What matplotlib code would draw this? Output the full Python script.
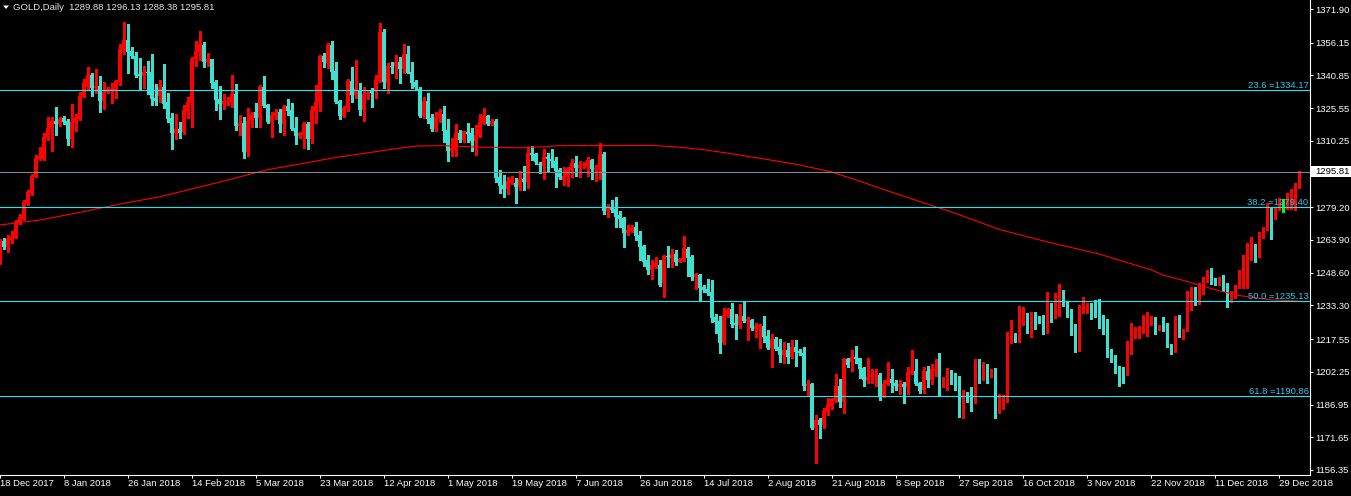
import matplotlib
matplotlib.use("Agg")
import matplotlib.pyplot as plt
from matplotlib.patches import Rectangle, Polygon
from matplotlib.transforms import IdentityTransform

# daily GOLD bars, oldest first
opens = [
    1254.0, 1263.4, 1260.8, 1264.0, 1265.0, 1271.7, 1273.5, 1281.0, 1285.7, 1293.5,
    1301.8, 1301.8, 1311.4, 1315.8, 1319.5, 1318.1, 1321.1, 1319.5, 1311.1, 1318.8,
    1320.3, 1330.9, 1335.6, 1341.0, 1335.0, 1336.0, 1328.9, 1333.1, 1334.0, 1334.0,
    1337.9, 1352.7, 1357.4, 1352.3, 1349.9, 1341.5, 1340.6, 1342.6, 1342.6, 1330.4,
    1331.2, 1335.6, 1328.4, 1320.9, 1314.1, 1315.8, 1314.6, 1324.4, 1328.1, 1348.4,
    1352.0, 1355.1, 1347.3, 1348.5, 1337.8, 1329.8, 1327.5, 1328.6, 1327.8, 1332.2,
    1317.2, 1318.4, 1305.2, 1319.5, 1323.6, 1321.1, 1335.3, 1327.0, 1319.2, 1322.0,
    1323.6, 1318.0, 1326.5, 1324.7, 1316.1, 1312.7, 1313.0, 1318.1, 1311.0, 1324.4,
    1328.1, 1349.9, 1346.8, 1355.1, 1342.9, 1328.9, 1322.0, 1325.5, 1338.2, 1331.7,
    1333.6, 1324.7, 1332.2, 1334.0, 1333.7, 1338.2, 1361.0, 1337.5, 1345.2, 1345.2,
    1347.3, 1343.8, 1350.9, 1342.4, 1337.8, 1334.5, 1321.9, 1328.9, 1321.1, 1315.6,
    1320.8, 1322.6, 1315.3, 1305.7, 1306.0, 1313.8, 1310.6, 1314.3, 1313.8, 1310.3,
    1312.7, 1318.5, 1321.9, 1318.1, 1319.5, 1293.5, 1289.6, 1287.8, 1290.7, 1290.7,
    1288.5, 1292.4, 1291.0, 1304.7, 1304.1, 1299.4, 1298.7, 1302.5, 1301.8, 1300.8,
    1296.6, 1291.9, 1293.5, 1296.6, 1300.1, 1297.7, 1299.0, 1298.7, 1301.3, 1297.1,
    1297.1, 1304.1, 1277.6, 1278.7, 1278.2, 1275.6, 1274.3, 1267.3, 1268.1, 1269.8,
    1266.2, 1261.1, 1254.3, 1249.9, 1251.4, 1252.2, 1243.7, 1256.6, 1255.6, 1257.4,
    1253.8, 1254.9, 1259.7, 1256.1, 1246.7, 1247.5, 1241.8, 1240.8, 1239.4, 1228.1,
    1226.0, 1215.6, 1228.4, 1231.5, 1224.9, 1224.2, 1228.4, 1226.2, 1226.5, 1222.3,
    1223.4, 1223.7, 1219.0, 1213.3, 1217.8, 1214.0, 1210.1, 1212.5, 1209.1, 1214.0,
    1212.2, 1211.2, 1195.7, 1196.6, 1175.9, 1179.5, 1177.4, 1183.4, 1185.7, 1188.8,
    1195.6, 1188.3, 1208.2, 1207.0, 1209.0, 1208.6, 1203.9, 1198.4, 1199.7, 1199.7,
    1200.8, 1191.1, 1196.6, 1198.9, 1197.2, 1195.0, 1196.6, 1195.3, 1201.9, 1202.6,
    1196.9, 1193.8, 1202.8, 1198.4, 1202.8, 1203.4, 1195.6, 1198.1, 1201.5, 1201.2,
    1194.5, 1183.6, 1192.5, 1192.5, 1187.8, 1204.4, 1199.7, 1201.2, 1200.3, 1203.1,
    1184.9, 1189.1, 1188.8, 1219.2, 1219.5, 1216.4, 1227.8, 1228.4, 1226.2, 1229.3,
    1227.1, 1227.3, 1221.1, 1233.5, 1228.1, 1229.3, 1240.1, 1234.0, 1230.4, 1224.2,
    1216.4, 1230.4, 1230.7, 1233.0, 1231.2, 1228.8, 1228.1, 1224.2, 1212.2, 1209.7,
    1203.6, 1203.6, 1201.1, 1213.0, 1220.3, 1221.8, 1222.3, 1223.1, 1226.5, 1227.3,
    1222.3, 1223.7, 1222.9, 1214.8, 1212.5, 1227.8, 1218.3, 1221.8, 1232.4, 1238.2,
    1236.8, 1241.3, 1244.7, 1250.4, 1245.2, 1243.3, 1246.3, 1242.6, 1235.9, 1237.4,
    1242.4, 1246.5, 1254.6, 1256.1, 1259.5, 1256.9, 1265.2, 1269.1, 1278.2, 1274.0,
    1278.0, 1279.3, 1281.0, 1283.4, 1285.7, 1289.88,
]

highs = [
    1264.5, 1264.7, 1266.2, 1268.3, 1273.3, 1276.0, 1282.6, 1287.3, 1294.8, 1303.6,
    1307.5, 1314.1, 1321.6, 1321.6, 1325.9, 1321.6, 1321.9, 1320.6, 1327.5, 1322.7,
    1332.9, 1339.0, 1344.8, 1342.1, 1343.7, 1340.6, 1337.9, 1335.6, 1337.1, 1338.7,
    1355.5, 1366.0, 1364.9, 1354.0, 1352.0, 1349.1, 1345.2, 1347.6, 1350.9, 1336.8,
    1338.7, 1346.2, 1332.5, 1323.1, 1322.8, 1319.0, 1327.0, 1330.6, 1349.3, 1356.9,
    1361.6, 1356.6, 1351.5, 1348.5, 1338.7, 1335.9, 1332.2, 1330.6, 1341.0, 1336.8,
    1322.3, 1321.3, 1325.5, 1323.9, 1327.8, 1336.4, 1340.6, 1327.5, 1323.9, 1325.0,
    1325.0, 1327.0, 1329.8, 1327.8, 1321.3, 1314.6, 1319.2, 1319.2, 1326.5, 1336.4,
    1350.5, 1351.2, 1356.2, 1357.1, 1347.3, 1329.4, 1326.5, 1339.2, 1344.9, 1348.1,
    1337.1, 1335.3, 1334.0, 1334.8, 1341.0, 1365.2, 1362.4, 1346.5, 1347.3, 1350.4,
    1349.3, 1355.5, 1354.6, 1347.1, 1338.7, 1335.6, 1330.6, 1332.8, 1322.6, 1323.6,
    1325.0, 1326.5, 1320.5, 1311.4, 1318.1, 1315.3, 1315.0, 1318.5, 1316.4, 1317.7,
    1322.6, 1325.5, 1322.3, 1320.5, 1320.3, 1296.6, 1294.3, 1293.5, 1293.8, 1292.7,
    1296.2, 1298.7, 1306.8, 1307.8, 1304.7, 1300.5, 1306.3, 1304.4, 1306.3, 1302.5,
    1297.4, 1297.9, 1298.2, 1301.6, 1303.2, 1300.8, 1300.5, 1302.9, 1301.6, 1299.0,
    1309.4, 1305.2, 1280.7, 1282.6, 1283.9, 1277.6, 1274.8, 1270.9, 1270.9, 1272.5,
    1268.1, 1261.4, 1256.9, 1254.6, 1255.7, 1254.3, 1256.9, 1261.1, 1259.5, 1259.2,
    1255.3, 1265.8, 1260.8, 1256.9, 1248.6, 1248.0, 1242.9, 1245.5, 1245.2, 1229.3,
    1228.4, 1231.9, 1231.9, 1234.6, 1229.3, 1234.0, 1235.4, 1228.1, 1226.8, 1224.9,
    1224.6, 1228.4, 1221.8, 1220.0, 1218.4, 1217.5, 1216.4, 1215.6, 1217.2, 1217.2,
    1212.8, 1214.0, 1198.5, 1196.9, 1182.1, 1180.6, 1185.2, 1189.9, 1189.9, 1201.2,
    1198.9, 1208.6, 1208.6, 1212.5, 1214.3, 1208.9, 1204.4, 1208.6, 1203.4, 1203.4,
    1201.5, 1198.4, 1206.7, 1203.4, 1198.4, 1198.4, 1197.7, 1204.4, 1212.5, 1208.2,
    1197.7, 1204.4, 1205.0, 1205.9, 1208.1, 1210.9, 1199.7, 1203.9, 1203.1, 1201.9,
    1200.3, 1193.8, 1193.0, 1195.3, 1208.2, 1208.2, 1206.7, 1205.9, 1203.4, 1203.9,
    1191.9, 1191.4, 1221.0, 1226.5, 1220.6, 1233.0, 1232.4, 1229.6, 1230.1, 1230.4,
    1228.4, 1228.8, 1239.7, 1234.6, 1239.0, 1243.3, 1240.4, 1235.1, 1231.5, 1224.6,
    1233.5, 1237.1, 1234.3, 1234.6, 1235.9, 1236.3, 1228.8, 1226.8, 1212.8, 1210.1,
    1205.0, 1204.4, 1216.8, 1225.3, 1223.1, 1223.7, 1228.8, 1230.1, 1228.4, 1228.1,
    1224.2, 1228.1, 1224.9, 1215.1, 1228.4, 1228.9, 1222.3, 1240.0, 1242.1, 1242.0,
    1243.8, 1246.8, 1249.7, 1250.7, 1246.0, 1246.8, 1247.5, 1243.7, 1239.8, 1242.9,
    1249.9, 1256.9, 1262.4, 1265.2, 1261.9, 1267.8, 1270.1, 1281.0, 1278.7, 1279.5,
    1283.4, 1282.9, 1285.7, 1287.6, 1290.7, 1296.13,
]

lows = [
    1252.5, 1259.5, 1258.5, 1262.4, 1264.7, 1271.4, 1273.3, 1280.3, 1285.0, 1293.2,
    1301.5, 1301.5, 1310.6, 1305.7, 1313.0, 1317.2, 1318.1, 1308.3, 1307.5, 1315.0,
    1320.0, 1330.6, 1334.0, 1331.4, 1332.8, 1323.9, 1325.3, 1332.5, 1328.1, 1330.4,
    1336.4, 1350.9, 1342.1, 1348.8, 1339.9, 1334.0, 1334.8, 1332.2, 1327.0, 1327.0,
    1328.6, 1325.8, 1319.1, 1306.6, 1311.0, 1311.8, 1313.5, 1320.8, 1316.9, 1345.4,
    1348.1, 1344.6, 1345.2, 1335.1, 1324.7, 1320.5, 1325.2, 1327.0, 1325.9, 1315.3,
    1313.0, 1302.4, 1303.2, 1316.9, 1316.9, 1316.9, 1325.9, 1318.7, 1312.2, 1320.5,
    1314.6, 1313.0, 1322.3, 1315.3, 1308.8, 1311.4, 1307.0, 1306.4, 1309.4, 1318.7,
    1324.4, 1344.9, 1344.2, 1339.2, 1328.1, 1320.5, 1321.6, 1324.4, 1328.6, 1330.1,
    1322.3, 1319.3, 1329.8, 1326.2, 1330.4, 1337.9, 1335.1, 1332.5, 1342.1, 1339.8,
    1337.5, 1341.8, 1341.8, 1334.8, 1334.5, 1321.3, 1320.8, 1318.5, 1314.8, 1314.8,
    1319.2, 1309.9, 1301.0, 1303.2, 1303.2, 1309.6, 1309.9, 1309.9, 1305.7, 1303.6,
    1311.9, 1318.0, 1317.7, 1317.7, 1291.2, 1286.0, 1284.2, 1285.4, 1290.1, 1281.4,
    1287.3, 1287.3, 1288.4, 1301.3, 1299.4, 1295.4, 1292.4, 1295.5, 1298.2, 1288.8,
    1292.3, 1289.6, 1289.3, 1293.5, 1293.8, 1293.2, 1297.7, 1294.0, 1292.4, 1291.6,
    1292.4, 1276.1, 1274.8, 1277.2, 1270.1, 1270.1, 1260.8, 1266.2, 1267.5, 1263.9,
    1254.3, 1251.9, 1248.0, 1245.5, 1250.7, 1242.5, 1237.4, 1251.4, 1251.1, 1252.2,
    1253.5, 1254.1, 1247.2, 1245.2, 1241.0, 1235.9, 1239.7, 1238.2, 1225.7, 1220.6,
    1211.2, 1215.3, 1228.1, 1223.4, 1217.6, 1222.6, 1225.4, 1217.2, 1221.8, 1218.7,
    1213.6, 1216.4, 1212.8, 1204.4, 1212.5, 1207.0, 1206.2, 1206.2, 1208.6, 1205.0,
    1210.1, 1193.8, 1191.0, 1175.4, 1159.8, 1171.5, 1176.2, 1182.1, 1184.7, 1188.3,
    1186.0, 1182.8, 1204.3, 1202.8, 1206.2, 1199.2, 1195.6, 1196.9, 1197.2, 1195.6,
    1189.1, 1190.6, 1196.1, 1193.0, 1193.8, 1191.9, 1187.5, 1191.9, 1201.2, 1196.1,
    1192.5, 1192.5, 1195.3, 1196.6, 1200.3, 1191.4, 1195.0, 1193.8, 1196.6, 1193.8,
    1181.3, 1180.5, 1188.3, 1184.1, 1187.5, 1197.2, 1198.4, 1197.2, 1199.7, 1180.5,
    1182.8, 1184.7, 1188.3, 1215.6, 1216.1, 1216.1, 1224.2, 1220.3, 1218.4, 1222.1,
    1224.9, 1219.8, 1220.6, 1225.4, 1227.6, 1228.4, 1233.0, 1228.1, 1219.5, 1211.7,
    1212.0, 1229.6, 1229.6, 1226.8, 1227.8, 1222.6, 1219.8, 1209.1, 1207.0, 1201.9,
    1195.7, 1196.9, 1200.8, 1210.6, 1217.9, 1217.9, 1220.6, 1219.0, 1224.2, 1219.8,
    1221.8, 1221.1, 1214.0, 1210.6, 1211.7, 1218.3, 1217.6, 1221.4, 1231.2, 1233.5,
    1234.0, 1238.5, 1244.1, 1243.3, 1242.9, 1242.9, 1239.8, 1232.7, 1235.1, 1236.6,
    1241.3, 1241.3, 1241.3, 1254.6, 1253.8, 1256.1, 1264.7, 1268.6, 1264.4, 1273.6,
    1277.8, 1277.1, 1278.2, 1278.2, 1278.0, 1288.38,
]

closes = [
    1263.0, 1260.8, 1264.4, 1265.3, 1272.5, 1274.8, 1281.8, 1286.5, 1294.0, 1302.4,
    1303.3, 1312.2, 1316.4, 1319.4, 1318.1, 1320.6, 1319.1, 1311.1, 1319.1, 1321.1,
    1331.2, 1337.1, 1341.0, 1335.1, 1336.0, 1328.9, 1333.2, 1334.3, 1334.2, 1338.2,
    1353.2, 1357.4, 1351.9, 1349.9, 1341.0, 1340.6, 1342.6, 1342.2, 1329.8, 1328.9,
    1335.6, 1327.5, 1320.5, 1314.1, 1315.8, 1314.1, 1324.7, 1328.4, 1348.4, 1352.3,
    1355.5, 1347.3, 1348.5, 1337.5, 1329.4, 1327.5, 1328.9, 1329.0, 1332.2, 1317.2,
    1318.4, 1305.2, 1319.5, 1322.8, 1321.1, 1335.3, 1326.5, 1319.2, 1322.3, 1323.4,
    1318.0, 1325.9, 1324.4, 1315.6, 1312.7, 1313.8, 1318.1, 1311.0, 1324.7, 1328.6,
    1349.9, 1347.3, 1355.1, 1342.6, 1328.6, 1322.0, 1325.5, 1338.4, 1331.7, 1334.3,
    1324.7, 1332.2, 1332.8, 1332.5, 1338.7, 1361.3, 1337.9, 1345.2, 1344.6, 1347.3,
    1343.8, 1350.9, 1342.1, 1337.5, 1335.6, 1321.9, 1328.9, 1320.5, 1315.6, 1321.6,
    1323.4, 1314.9, 1305.7, 1306.7, 1313.7, 1310.6, 1314.7, 1313.5, 1310.3, 1313.0,
    1318.9, 1322.0, 1318.1, 1319.5, 1293.1, 1289.3, 1287.8, 1291.5, 1292.3, 1288.8,
    1292.4, 1291.0, 1304.7, 1303.6, 1300.2, 1299.0, 1302.5, 1301.8, 1300.8, 1296.2,
    1293.5, 1293.8, 1296.9, 1300.1, 1297.7, 1299.0, 1299.4, 1301.3, 1297.1, 1297.7,
    1304.1, 1277.6, 1279.8, 1277.9, 1274.8, 1273.7, 1267.3, 1268.6, 1270.1, 1265.8,
    1260.8, 1253.8, 1249.9, 1252.2, 1253.3, 1242.9, 1256.4, 1256.1, 1257.4, 1253.5,
    1254.9, 1260.0, 1255.3, 1246.7, 1248.0, 1241.6, 1240.5, 1239.0, 1227.6, 1225.7,
    1215.9, 1228.9, 1231.2, 1224.6, 1224.2, 1228.4, 1226.2, 1226.8, 1222.6, 1223.7,
    1224.2, 1218.7, 1213.3, 1217.5, 1212.8, 1210.1, 1212.5, 1209.4, 1214.0, 1211.7,
    1211.0, 1195.7, 1196.6, 1175.9, 1179.5, 1177.4, 1184.1, 1186.8, 1189.4, 1195.6,
    1188.3, 1208.2, 1205.4, 1209.0, 1208.1, 1203.6, 1198.4, 1199.7, 1200.8, 1200.8,
    1191.1, 1196.6, 1198.9, 1196.9, 1195.8, 1196.6, 1195.3, 1202.3, 1202.8, 1196.6,
    1193.4, 1202.8, 1198.4, 1203.4, 1203.4, 1195.6, 1198.9, 1201.2, 1200.9, 1194.2,
    1183.6, 1192.5, 1190.3, 1187.8, 1204.4, 1199.7, 1201.2, 1200.6, 1203.1, 1184.9,
    1189.1, 1189.4, 1219.5, 1219.8, 1217.2, 1228.4, 1228.5, 1226.2, 1229.3, 1226.8,
    1226.2, 1221.1, 1233.5, 1228.1, 1229.6, 1240.1, 1233.5, 1229.9, 1223.9, 1216.4,
    1230.7, 1231.5, 1233.2, 1230.9, 1228.5, 1227.6, 1223.9, 1211.7, 1209.4, 1203.1,
    1203.1, 1201.1, 1213.3, 1220.7, 1221.5, 1222.6, 1223.4, 1226.8, 1227.3, 1222.3,
    1223.1, 1222.1, 1214.4, 1212.5, 1227.8, 1218.7, 1221.8, 1235.0, 1238.3, 1236.6,
    1241.5, 1245.2, 1248.2, 1245.0, 1243.3, 1246.3, 1242.1, 1235.9, 1238.5, 1242.4,
    1246.8, 1254.6, 1256.4, 1259.5, 1255.8, 1265.8, 1269.7, 1278.2, 1274.0, 1278.2,
    1281.0, 1279.3, 1283.4, 1285.7, 1289.6, 1295.81,
]

# moving average (red line), read at a number of bars
ma_bars = [0, 10, 20, 30, 40, 55, 67, 75, 84, 90, 98, 104, 111, 120, 130, 136,
           140, 163, 170, 176, 182, 188, 194, 200, 208, 215, 225, 238, 250, 263,
           275, 288, 291, 296, 300, 305, 310, 318, 325]
ma_values = [1270.9, 1273.2, 1276.8, 1280.7, 1284.1, 1291.0, 1296.8, 1299.4,
             1302.5, 1304.1, 1306.3, 1307.8, 1308.0, 1307.3, 1307.0, 1307.5,
             1308.0, 1308.1, 1307.3, 1306.1, 1304.5, 1302.7, 1300.9, 1299.0,
             1295.7, 1291.4, 1285.0, 1277.0, 1268.8, 1262.5, 1257.3, 1249.9,
             1247.4, 1245.0, 1242.8, 1240.1, 1237.9, 1235.9, 1235.3]

date_labels = ['18 Dec 2017', '8 Jan 2018', '26 Jan 2018', '14 Feb 2018',
               '5 Mar 2018', '23 Mar 2018', '12 Apr 2018', '1 May 2018',
               '19 May 2018', '7 Jun 2018', '26 Jun 2018', '14 Jul 2018',
               '2 Aug 2018', '21 Aug 2018', '8 Sep 2018', '27 Sep 2018',
               '16 Oct 2018', '3 Nov 2018', '22 Nov 2018', '11 Dec 2018',
               '29 Dec 2018']

price_ticks = [1371.90, 1356.15, 1340.85, 1325.55, 1310.25, 1279.20, 1263.90,
               1248.60, 1233.30, 1217.55, 1202.25, 1186.95, 1171.65, 1156.35]

fib_pcts = ['23.6', '38.2', '50.0', '61.8']
fib_prices = [1334.17, 1279.40, 1235.13, 1190.86]

last_price = 1295.81
title = 'GOLD,Daily  1289.88 1296.13 1288.38 1295.81'

UP = '#ff0000'
DOWN = '#40e0d0'
DOJI = '#00ff00'
FIB_LINE = '#1ee6ee'
FIB_TEXT = '#2ec8f2'
FS = 6.8


def drawChart():
    plt.rcParams['font.family'] = ['Liberation Sans', 'DejaVu Sans']

    W, H = 1351, 496
    fig = plt.figure(figsize=(W / 100, H / 100), dpi=100, facecolor='black')
    ax = fig.add_axes([0, 21 / H, 1310 / W, 475 / H], facecolor='black')

    bars = list(range(len(closes)))
    ax.set_xlim(0.175, 327.675)
    ax.set_ylim(1153.99, 1376.11)

    cols = []
    for o, c in zip(opens, closes):
        if c > o:
            cols.append(UP)
        elif c < o:
            cols.append(DOWN)
        else:
            cols.append(DOJI)

    ax.vlines(bars, lows, highs, colors=cols, linewidth=0.75, antialiased=False, zorder=2)
    bottoms = [min(o, c) for o, c in zip(opens, closes)]
    heights = [max(abs(c - o), 0.45) for o, c in zip(opens, closes)]
    ax.bar(bars, heights, bottom=bottoms, width=0.76, color=cols,
           linewidth=0, antialiased=False, zorder=2)

    # moving average
    ax.plot(ma_bars, ma_values, color=UP, linewidth=0.8, zorder=3)

    # fibo levels and current price line
    for pct, lvl in zip(fib_pcts, fib_prices):
        ax.axhline(lvl, color=FIB_LINE, linewidth=0.8, zorder=4)
        ax.text(327.3, lvl + 0.95, '%s =%.2f' % (pct, lvl), color=FIB_TEXT,
                fontsize=FS, ha='right', va='baseline', zorder=5)
    ax.axhline(last_price, color='#778899', linewidth=0.8, zorder=4)

    # axes look
    for side in ['top', 'left']:
        ax.spines[side].set_visible(False)
    for side in ['right', 'bottom']:
        ax.spines[side].set_color('white')
        ax.spines[side].set_linewidth(0.8)

    ax.yaxis.tick_right()
    ax.set_yticks(price_ticks)
    ax.set_yticklabels(['%.2f' % v for v in price_ticks])
    ax.tick_params(axis='y', colors='white', length=2.5, width=0.75, pad=1.5, labelsize=FS)

    ax.set_xticks(list(range(0, 16 * len(date_labels), 16)))
    ax.set_xticklabels(date_labels, ha='left')
    ax.tick_params(axis='x', colors='white', length=2, width=0.75, pad=0.8, labelsize=FS)

    # current price box on the price scale
    yp = ax.transData.transform((0, last_price))[1]
    fig.add_artist(Rectangle((1311, yp - 5.5), 40, 11, transform=IdentityTransform(),
                             facecolor='white', edgecolor='none', zorder=6))
    fig.text(1315, yp, '%.2f' % last_price, transform=IdentityTransform(),
             color='black', fontsize=FS, va='center', ha='left', zorder=7)

    # header
    fig.add_artist(Polygon([(3, 490.5), (9, 490.5), (6, 487)], closed=True,
                           transform=IdentityTransform(), facecolor='white',
                           edgecolor='none'))
    fig.text(13, H - 7.5, title, transform=IdentityTransform(), color='#e6e6e6',
             fontsize=FS, va='center', ha='left')

    fig.savefig('out.png', dpi=100, facecolor='black')


if __name__ == "__main__":
    drawChart()
